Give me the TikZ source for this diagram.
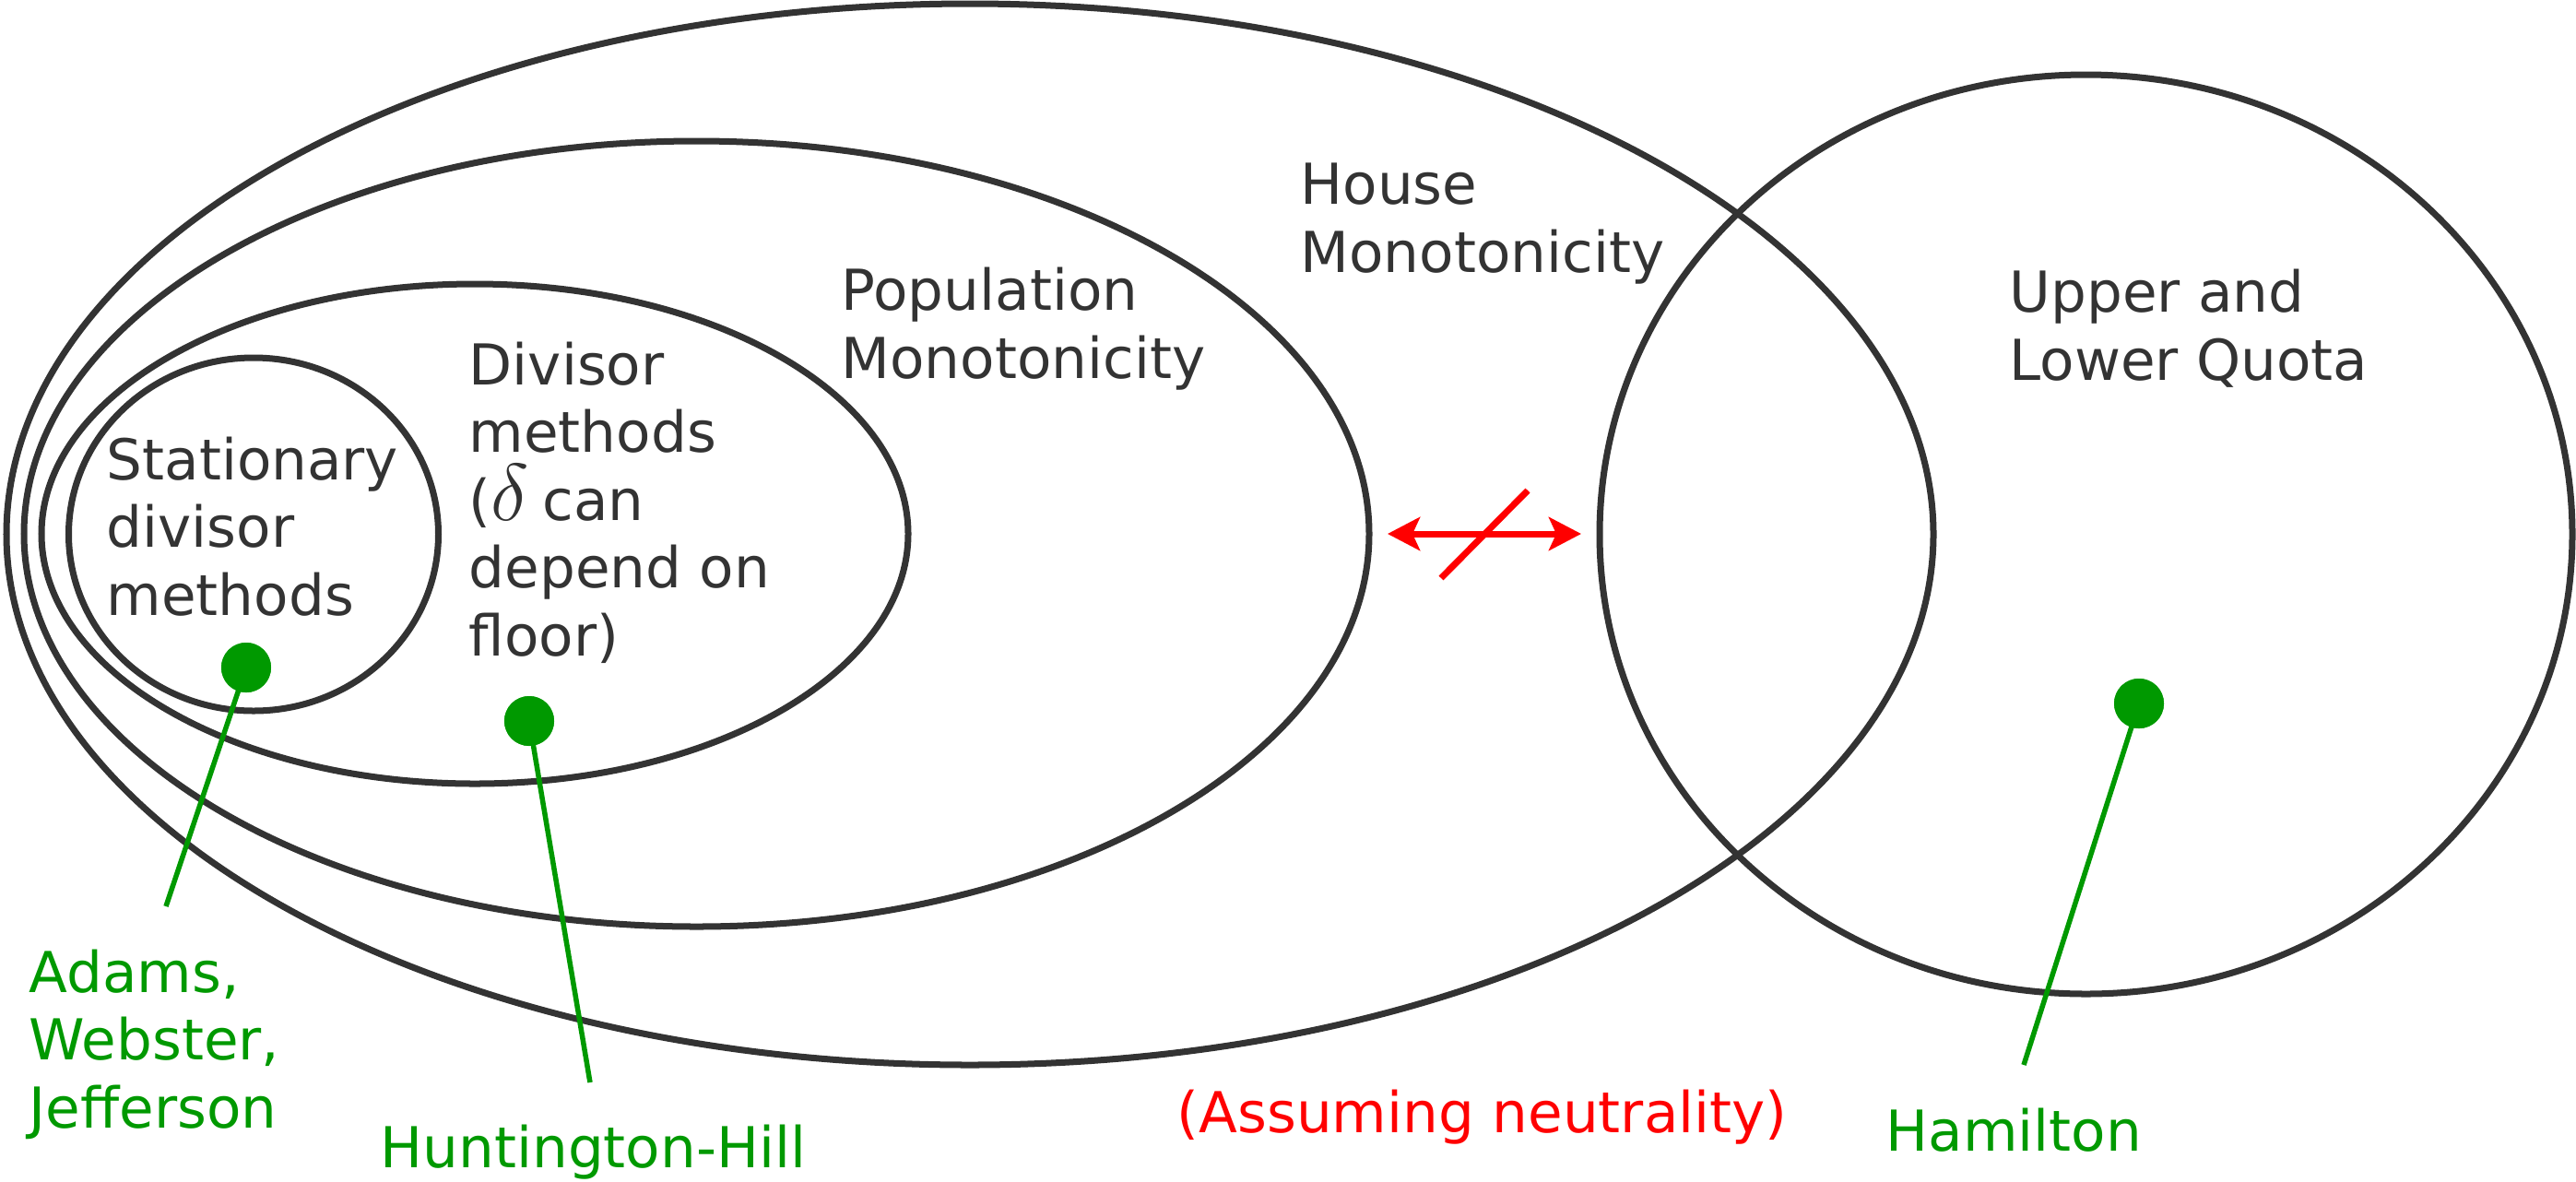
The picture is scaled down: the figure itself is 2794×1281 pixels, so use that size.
\documentclass[tikz,border=0pt]{standalone}
\usepackage{fontspec}
\setmainfont{DejaVu Sans}
\usetikzlibrary{arrows.meta}
\definecolor{setline}{HTML}{333333}
\definecolor{methodgreen}{HTML}{009900}
\definecolor{notered}{HTML}{FF0000}
\begin{document}
\begin{tikzpicture}[x=0.01cm,y=-0.01cm,
  setring/.style={draw=setline,line width=0.07cm},
  labelfont/.style={font=\fontsize{17.4pt}{20.9pt}\selectfont},
  % multi-line labels are placed by the baseline of their last line
  setlabel/.style={labelfont,text=setline,anchor=base west,align=left,inner sep=0pt},
  methodlabel/.style={labelfont,text=methodgreen,anchor=base west,align=left,inner sep=0pt},
  methoddot/.style={circle,fill=methodgreen,inner sep=0pt,minimum size=0.54cm},
  pointer/.style={draw=methodgreen,line width=0.055cm},
  noimply/.style={draw=notered,line width=0.07cm}
]
\useasboundingbox (0,0) rectangle (2794,1281);

% nested property sets
\draw[setring] (1052,579.5) ellipse [x radius=1045, y radius=575.5];  % house monotonicity
\draw[setring] (755.5,579) ellipse [x radius=729.5, y radius=426];    % population monotonicity
\draw[setring] (515,579) ellipse [x radius=470, y radius=271];        % divisor methods
\draw[setring] (275,579.5) ellipse [x radius=200.5, y radius=191.5];  % stationary divisor methods
\draw[setring] (2262.5,579.5) ellipse [x radius=527.5, y radius=498.5]; % quota

% set names
\node[setlabel] (house) at (1410,295) {House\\Monotonicity};
\node[setlabel] (popul) at (912,410) {Population\\Monotonicity};
\node[setlabel] (divis) at (508,711) {Divisor\\methods\\({\fontsize{25pt}{25pt}\selectfont$\delta$\,}can\\depend on\\floor)};
\node[setlabel] (stat) at (115,667) {Stationary\\divisor\\methods};
\node[setlabel] (quota) at (2179,412) {Upper and\\Lower Quota};

% incompatibility arrow
\coordinate (arrL) at (1505,579);
\coordinate (arrR) at (1715,579);
\coordinate (slashA) at (1563,627);
\coordinate (slashB) at (1657,532);
\draw[noimply,{Stealth[length=0.35cm,width=0.36cm,inset=0.08cm]}-{Stealth[length=0.35cm,width=0.36cm,inset=0.08cm]}] (arrL) -- (arrR);
\draw[noimply] (slashA) -- (slashB);
\node[labelfont,text=notered,anchor=base west,inner sep=0pt] (neutral) at (1276,1228) {(Assuming neutrality)};

% example methods
\node[methoddot] (d1) at (267,724) {};
\node[methoddot] (d2) at (574,782) {};
\node[methoddot] (d3) at (2320,763) {};
\coordinate (e1) at (180,983);
\coordinate (e2) at (640,1174);
\coordinate (e3) at (2195,1155);
\draw[pointer] (d1.center) -- (e1);
\draw[pointer] (d2.center) -- (e2);
\draw[pointer] (d3.center) -- (e3);
\node[methoddot] at (d1) {};
\node[methoddot] at (d2) {};
\node[methoddot] at (d3) {};

\node[methodlabel] (adams) at (31,1223) {Adams,\\Webster,\\Jefferson};
\node[methodlabel] (hh) at (412,1266) {Huntington-Hill};
\node[methodlabel] (ham) at (2045,1248) {Hamilton};
\end{tikzpicture}
\end{document}
